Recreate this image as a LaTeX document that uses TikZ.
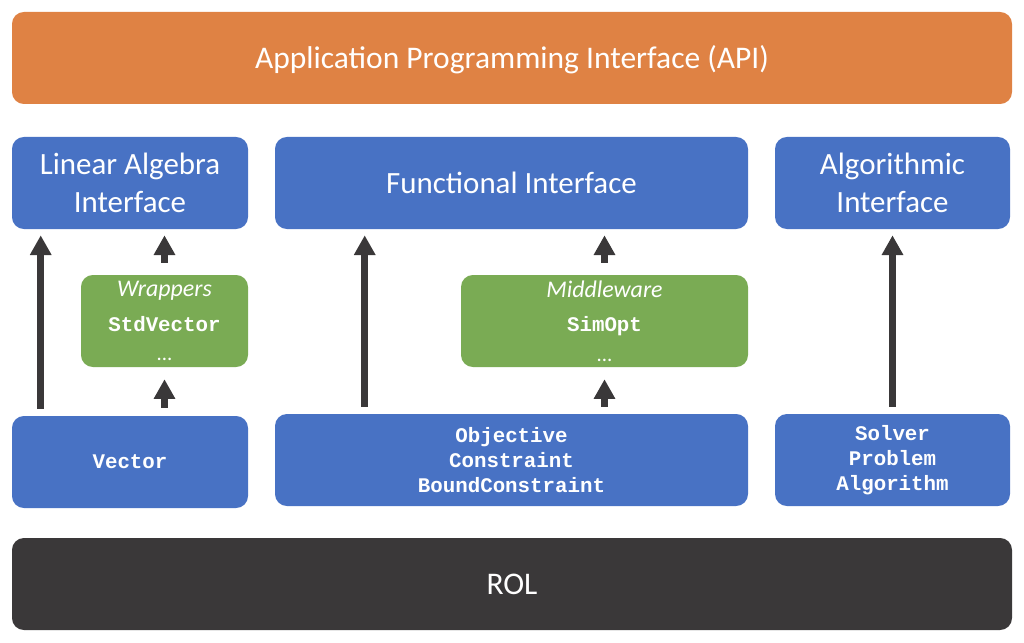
\documentclass[tikz,border=0pt]{standalone}
\usepackage{fontspec}
\setmainfont{Carlito}
\setmonofont{Liberation Mono}
\usetikzlibrary{arrows.meta,calc}
\definecolor{rolorange}{RGB}{223,130,68}
\definecolor{rolblue}{RGB}{72,114,196}
\definecolor{rolgreen}{RGB}{122,171,84}
\definecolor{roldark}{RGB}{58,56,57}

\begin{document}
\begin{tikzpicture}[x=0.025cm, y=-0.025cm,
      layer/.style={rounded corners=8.5pt, draw=none, align=center, text=white, inner sep=0pt, font=\fontsize{22}{26.5}\selectfont},
      bar/.style={layer, minimum width=1000*0.025cm, minimum height=92*0.025cm, text height=19pt, text depth=4pt, font=\fontsize{22.4}{26.5}\selectfont},
      iface/.style={layer, fill=rolblue, minimum height=92*0.025cm},
      impl/.style={layer, fill=rolblue, minimum height=92*0.025cm, font=\fontsize{14.8}{18}\selectfont\ttfamily\bfseries},
      mid/.style={layer, fill=rolgreen, minimum height=92*0.025cm, font=\fontsize{14.8}{18}\selectfont\ttfamily\bfseries},
      arr/.style={draw=roldark, line width=5pt, -{Triangle[length=14pt, width=14.5pt]}}
    ]
      \useasboundingbox (0,0) rectangle (1024,643);

      % top and bottom bars
      \node[bar, fill=rolorange] (api) at (512,58) {Application Programming Interface (API)};
      \node[bar, fill=roldark] (rol) at (512,584) {ROL};

      % interfaces
      \node[iface, minimum width=236*0.025cm] (lai) at (130,183) {Linear Algebra\\Interface};
      \node[iface, minimum width=473*0.025cm] (fun) at (511.5,183) {Functional Interface};
      \node[iface, minimum width=235*0.025cm] (alg) at (892.5,183) {Algorithmic\\Interface};

      % middle layer
      \node[mid, minimum width=167*0.025cm] (wrap) at (164.5,321) {{\fontsize{17}{20}\selectfont\rmfamily\mdseries\itshape Wrappers}\\[6.5pt]StdVector\\[3pt]{\rmfamily\mdseries ...}};
      \node[mid, minimum width=287*0.025cm] (midw) at (604.5,321) {{\fontsize{17}{20}\selectfont\rmfamily\mdseries\itshape Middleware}\\[6.5pt]SimOpt\\[3pt]{\rmfamily\mdseries ...}};

      % implementations
      \node[impl, minimum width=236*0.025cm] (vec) at (130,462) {Vector};
      \node[impl, minimum width=473*0.025cm] (obj) at (511.5,460) {Objective\\Constraint\\BoundConstraint};
      \node[impl, minimum width=235*0.025cm] (sol) at (892.5,460) {Solver\\Problem\\Algorithm};

      % arrows
      \draw[arr, shorten <=5pt, shorten >=4.3pt] ($(vec.north west)+(29,0)$) -- ($(lai.south west)+(29,0)$);
      \draw[arr, shorten <=5.7pt, shorten >=8.5pt] (vec.north -| wrap.south) -- (wrap.south);
      \draw[arr, shorten <=8.5pt, shorten >=4.3pt] (wrap.north) -- (wrap.north |- lai.south);
      \draw[arr, shorten <=5pt, shorten >=4.3pt] ($(obj.north west)+(90,0)$) -- ($(fun.south west)+(90,0)$);
      \draw[arr, shorten <=5pt, shorten >=8.5pt] (obj.north -| midw.south) -- (midw.south);
      \draw[arr, shorten <=8.5pt, shorten >=4.3pt] (midw.north) -- (midw.north |- fun.south);
      \draw[arr, shorten <=5pt, shorten >=4.3pt] (sol.north) -- (alg.south);
    \end{tikzpicture}
\end{document}
